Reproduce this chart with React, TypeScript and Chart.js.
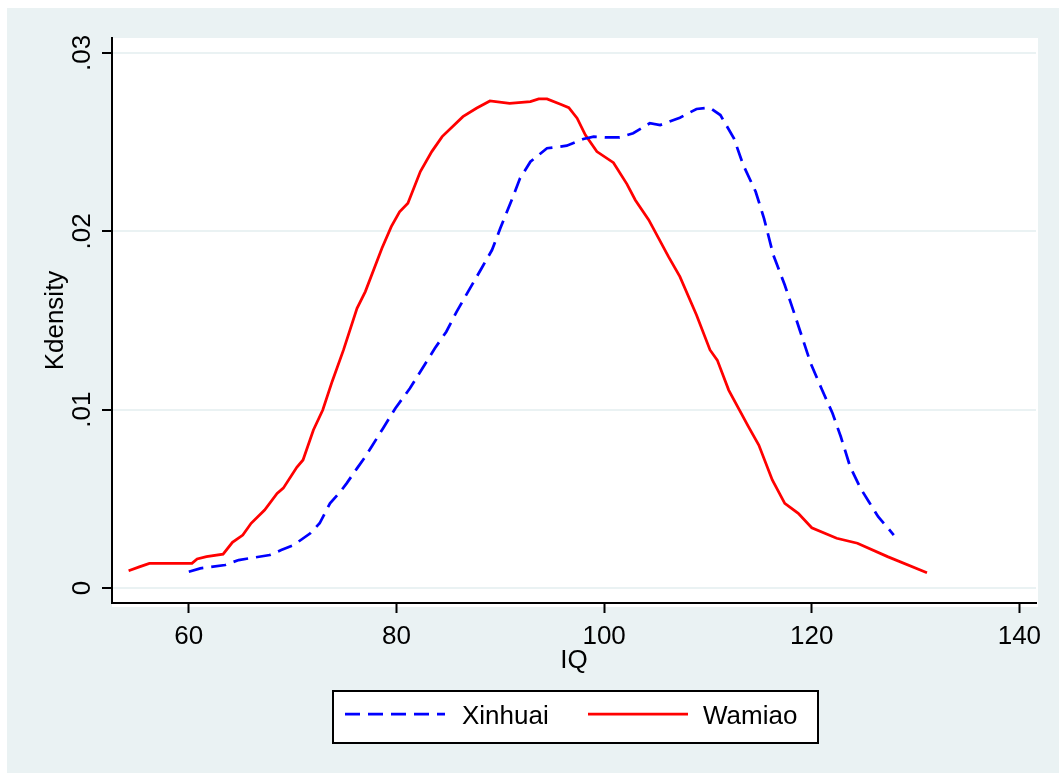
import React, { useEffect, useRef } from "react";
import { Chart, registerables } from "chart.js";

Chart.register(...registerables);

const xinhuaiIQ = [60, 61.1, 63.5, 64.8, 67.8, 68.9, 70.1, 71.7, 72.6, 73.6, 74.6, 75.2, 76.2, 77.0, 77.6, 78.7, 79.9, 81.3, 83.7, 84.8, 85.8, 86.9, 88.2, 89.2, 90.0, 91.1, 91.9, 92.9, 94.5, 96.4, 98.0, 99.0, 100.1, 101.5, 102.8, 104.4, 105.4, 107.3, 108.9, 110.2, 111.2, 112.5, 113.4, 114.6, 115.4, 116.3, 117.4, 118.1, 118.9, 119.9, 121.0, 122.0, 122.8, 123.7, 124.7, 125.5, 126.4, 127.9];
const xinhuaiDensity = [0.00091, 0.0011, 0.00129, 0.00157, 0.00185, 0.00213, 0.00241, 0.00307, 0.00363, 0.00475, 0.0054, 0.00587, 0.00671, 0.00736, 0.00792, 0.00895, 0.01008, 0.0112, 0.01344, 0.01437, 0.0155, 0.01662, 0.01793, 0.01895, 0.02017, 0.02176, 0.02297, 0.0239, 0.02466, 0.0248, 0.02518, 0.02531, 0.02527, 0.02527, 0.0255, 0.02606, 0.02596, 0.02637, 0.02686, 0.02693, 0.02652, 0.02522, 0.02372, 0.02222, 0.02073, 0.01867, 0.01699, 0.01578, 0.01437, 0.0126, 0.0111, 0.0098, 0.00848, 0.0068, 0.00559, 0.00484, 0.004, 0.00297];

const wamiaoIQ = [54.2, 55.3, 56.2, 60.3, 60.8, 61.7, 63.3, 64.2, 65.2, 66.0, 67.3, 68.5, 69.1, 70.4, 71.0, 72.0, 72.9, 73.8, 74.9, 76.2, 77.0, 78.6, 79.5, 80.3, 81.1, 82.3, 83.4, 84.4, 86.4, 87.7, 89.0, 90.9, 92.9, 93.7, 94.5, 95.8, 96.6, 97.4, 98.2, 99.3, 100.9, 102.2, 103.0, 104.3, 106.2, 107.3, 108.9, 110.2, 110.9, 112.0, 113.9, 114.9, 116.2, 117.4, 118.7, 120.0, 122.4, 124.4, 127.3, 131.1];
const wamiaoDensity = [0.00097, 0.0012, 0.00138, 0.00138, 0.00163, 0.00176, 0.0019, 0.00256, 0.00297, 0.00363, 0.00437, 0.0053, 0.0056, 0.00677, 0.00718, 0.00886, 0.00998, 0.01157, 0.01335, 0.01568, 0.01662, 0.01905, 0.02026, 0.0211, 0.02157, 0.02335, 0.02447, 0.02531, 0.02643, 0.0269, 0.02731, 0.02718, 0.02727, 0.02742, 0.02742, 0.02712, 0.02693, 0.02634, 0.0254, 0.02447, 0.02385, 0.02265, 0.02176, 0.02064, 0.01858, 0.01746, 0.01531, 0.01335, 0.01278, 0.0111, 0.00905, 0.00802, 0.00606, 0.00475, 0.00419, 0.00338, 0.00279, 0.00251, 0.00176, 0.00086];

const xTickValues = [60, 80, 100, 120, 140];
const xTickLabels = ["60", "80", "100", "120", "140"];
const yTickValues = [0, 0.01, 0.02, 0.03];
const yTickLabels = ["0", ".01", ".02", ".03"];
const seriesNames = ["Xinhuai", "Wamiao"];
const seriesColors = ["#0000FF", "#FF0000"];
const xTitle = "IQ";
const yTitle = "Kdensity";

const BG = "#EAF2F3";
const FONT = '26px "Liberation Sans", Arial, sans-serif';
const DASH = [15, 8];
const LINE_W = 2.75;

const stataPlugin = {
  id: "stataDecor",
  beforeDraw(chart: any) {
    const { ctx, width, height, chartArea: a } = chart;
    ctx.save();
    ctx.fillStyle = BG;
    ctx.fillRect(0, 0, width, height);
    ctx.fillStyle = "#FFFFFF";
    ctx.fillRect(a.left, a.top, a.right - a.left + 2, a.bottom - a.top + 4);
    ctx.restore();
  },
  afterDraw(chart: any) {
    const { ctx, chartArea: a } = chart;
    const xs = chart.scales.x;
    const ys = chart.scales.y;
    ctx.save();
    ctx.fillStyle = "#000";
    ctx.font = FONT;
    ctx.textAlign = "center";
    ctx.textBaseline = "alphabetic";
    xTickValues.forEach((v, i) => {
      ctx.fillText(xTickLabels[i], xs.getPixelForValue(v), 636);
    });
    ctx.fillText(xTitle, (a.left + a.right) / 2, 660);
    yTickValues.forEach((v, i) => {
      ctx.save();
      ctx.translate(83, ys.getPixelForValue(v));
      ctx.rotate(-Math.PI / 2);
      ctx.fillText(yTickLabels[i], 0, 0);
      ctx.restore();
    });
    ctx.save();
    ctx.translate(56, (a.top + a.bottom) / 2);
    ctx.rotate(-Math.PI / 2);
    ctx.fillText(yTitle, 0, 0);
    ctx.restore();

    // legend
    const bx = 326, by = 683, bw = 485, bh = 52;
    ctx.fillStyle = "#FFFFFF";
    ctx.fillRect(bx, by, bw, bh);
    ctx.strokeStyle = "#000";
    ctx.lineWidth = 2;
    ctx.strokeRect(bx, by, bw, bh);
    const ly = 706;
    const items = [
      { x0: 338, x1: 438, tx: 455, dash: DASH },
      { x0: 581, x1: 681, tx: 696, dash: [] as number[] },
    ];
    items.forEach((it, i) => {
      ctx.beginPath();
      ctx.setLineDash(it.dash);
      ctx.strokeStyle = seriesColors[i];
      ctx.lineWidth = LINE_W;
      ctx.moveTo(it.x0, ly);
      ctx.lineTo(it.x1, ly);
      ctx.stroke();
      ctx.setLineDash([]);
      ctx.fillStyle = "#000";
      ctx.textAlign = "left";
      ctx.textBaseline = "alphabetic";
      ctx.fillText(seriesNames[i], it.tx, 716);
    });
    ctx.restore();
  },
};

export default function App() {
  const canvasRef = useRef<HTMLCanvasElement | null>(null);

  useEffect(() => {
    if (!canvasRef.current) return;
    const chart = new Chart(canvasRef.current, {
      type: "line",
      data: {
        datasets: [
          {
            label: seriesNames[0],
            data: xinhuaiIQ.map((x, i) => ({ x, y: xinhuaiDensity[i] })),
            borderColor: seriesColors[0],
            borderWidth: LINE_W,
            borderDash: DASH,
            pointRadius: 0,
            tension: 0,
            fill: false,
          },
          {
            label: seriesNames[1],
            data: wamiaoIQ.map((x, i) => ({ x, y: wamiaoDensity[i] })),
            borderColor: seriesColors[1],
            borderWidth: LINE_W,
            pointRadius: 0,
            tension: 0,
            fill: false,
          },
        ],
      },
      options: {
        responsive: false,
        animation: false,
        devicePixelRatio: 1,
        layout: { padding: { left: 95, right: 23, top: 30, bottom: 160 } },
        plugins: { legend: { display: false }, tooltip: { enabled: false } },
        scales: {
          x: {
            type: "linear",
            min: 52.6,
            max: 141.6,
            afterBuildTicks: (s: any) => {
              s.ticks = xTickValues.map((v) => ({ value: v }));
            },
            ticks: { display: false },
            grid: {
              drawOnChartArea: false,
              drawTicks: true,
              tickLength: 10,
              tickColor: "#000",
              tickWidth: 2,
            },
            border: { display: true, color: "#000", width: 2 },
          },
          y: {
            type: "linear",
            min: -0.00084,
            max: 0.03084,
            afterBuildTicks: (s: any) => {
              s.ticks = yTickValues.map((v) => ({ value: v }));
            },
            ticks: { display: false },
            grid: {
              drawOnChartArea: true,
              color: BG,
              lineWidth: 2,
              drawTicks: true,
              tickLength: 10,
              tickColor: "#000",
              tickWidth: 2,
            },
            border: { display: true, color: "#000", width: 2 },
          },
        },
      },
      plugins: [stataPlugin],
    } as any);
    return () => chart.destroy();
  }, []);

  return (
    <div style={{ position: "fixed", left: 0, top: 0, width: 1059, height: 773, background: "#FFFFFF", overflow: "hidden" }}>
      <canvas ref={canvasRef} width={1052} height={765} style={{ position: "absolute", left: 7, top: 8 }} />
    </div>
  );
}
